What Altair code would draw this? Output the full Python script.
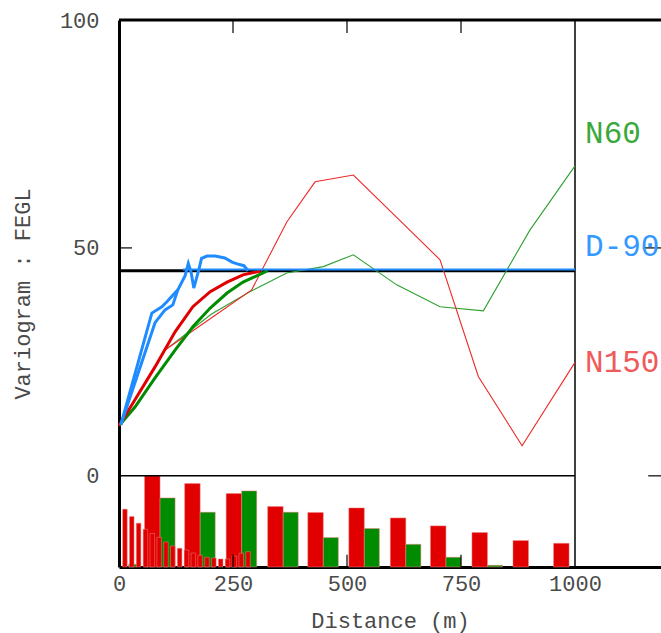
import altair as alt
import pandas as pd

FONT = "Liberation Mono"

# ---------------- data ----------------
# pair-count histogram (relative height, % of the tallest bar)
lag_pairs = [90, 178, 269, 360, 448, 538, 629, 717, 808, 898, 987]
pairs_n150 = [100, 91.5, 80.5, 66.3, 59.9, 64.8, 53.8, 45.1, 37.8, 29.0, 26.0]
pairs_n60 = [75.8, 60.1, 83.5, 60.1, 32.3, 42.2, 24.9, 10.7, 1.9, 0, 0]
lag_fine = [13, 28, 43, 58, 73, 88, 103, 118, 133, 148, 163, 178, 193, 208, 223, 238, 253, 268, 283]
pairs_fine = [63.4, 55.3, 48.0, 41.4, 36.8, 32.6, 27.5, 23.1, 20.5, 18.7, 15.4, 12.9, 10.7, 9.9, 8.8, 8.8, 12.1, 15.1, 16.8]
lag_fine_n60 = [30]
pairs_fine_n60 = [3.0]

# experimental variograms
n150_d = [101, 196, 291, 368, 430, 514, 609, 704, 788, 884, 1000]
n150_v = [27.6, 34.2, 40.8, 55.7, 64.5, 66.0, 56.7, 47.4, 21.8, 6.6, 24.9]
n60_d = [96, 203, 287, 368, 448, 514, 609, 704, 799, 901, 1000]
n60_v = [27.2, 35.5, 40.4, 44.5, 45.9, 48.5, 41.9, 37.1, 36.2, 53.9, 68.0]
d90a_d = [4, 72, 94, 105, 129, 145, 152, 158, 164, 175, 181, 193, 211, 232, 248, 259, 274, 283]
d90a_v = [11.2, 35.7, 37.1, 38.2, 40.8, 43.9, 46.6, 44.7, 41.2, 45.2, 47.7, 48.2, 48.2, 47.8, 46.9, 46.5, 46.1, 45.0]
d90b_d = [4, 79, 101, 118, 129]
d90b_v = [11.2, 33.6, 36.4, 37.5, 40.8]

# models
n150m_d = [0, 35, 79, 123, 162, 200, 237, 272, 309]
n150m_v = [11, 16.7, 23.9, 31.6, 37.1, 40.4, 42.5, 44.1, 44.9]
n60m_d = [0, 35, 79, 123, 162, 200, 237, 272, 316, 326]
n60m_v = [11, 15.1, 21.5, 27.6, 32.7, 36.8, 40.1, 42.5, 44.5, 45]
d90m_d = [140, 1000]
d90m_v = [45.25, 45.25]
sill_d = [0, 1000]
sill_v = [45, 45]

labels = ["N60", "D-90", "N150"]
label_v = [75.1, 50.1, 24.8]
label_colors = ["#3aa83a", "#3399ff", "#f05a5a"]

x_ticks = [0, 250, 500, 750, 1000]
y_ticks = [0, 50, 100]

# ---------------- scales / axes ----------------
XMAX = 1188.6
xs = alt.Scale(domain=[0, XMAX], nice=False, zero=False)
ys = alt.Scale(domain=[-20, 100], nice=False, zero=False)

x_axis = alt.Axis(values=x_ticks, title="Distance (m)", ticks=False, grid=False,
                  domainWidth=3, domainColor="black", labelFont=FONT, labelFontSize=22,
                  labelColor="#4a4a4a", labelPadding=6, labelFlush=False, labelOverlap=False,
                  titleFont=FONT, titleFontSize=22, titleFontWeight="normal", titleColor="#4a4a4a",
                  titleY=60, titleBaseline="alphabetic", format="d")
y_axis = alt.Axis(values=y_ticks, title="Variogram : FEGL", ticks=False, grid=False,
                  domainWidth=3, domainColor="black", labelFont=FONT, labelFontSize=22,
                  labelColor="#4a4a4a", labelPadding=20, labelOverlap=False,
                  titleFont=FONT, titleFontSize=22, titleFontWeight="normal", titleColor="#4a4a4a",
                  titleX=-97, titleY=273.5, titleBaseline="middle", titleAngle=270, format="d")

X = alt.X("d:Q", scale=xs, axis=x_axis)
Y = alt.Y("v:Q", scale=ys, axis=y_axis)


def bars_df(lags, pcts, lo, hi):
    return pd.DataFrame({
        "d": [l + lo for l in lags],
        "d2": [l + hi for l in lags],
        "v": [-20 + p * 0.2 for p in pcts],
        "v2": [-20] * len(lags),
    })


def bars(df, color):
    return alt.Chart(df).mark_rect(color=color, stroke="#f08080", strokeWidth=0.5).encode(
        x=X, x2="d2:Q", y=Y, y2="v2:Q")


def line(ds, vs, color, width):
    df = pd.DataFrame({"d": ds, "v": vs})
    return alt.Chart(df).mark_line(color=color, strokeWidth=width, clip=False).encode(x=X, y=Y)


def rule(df, width):
    return alt.Chart(df).mark_rule(color="black", strokeWidth=width).encode(
        x=X, x2="d2:Q", y=Y, y2="v2:Q")


RED = "#e00000"
GREEN = "#008c00"
BLUE = "#1e8cff"

layers = []
layers.append(bars(bars_df(lag_pairs, pairs_n150, -34, 0), RED))
layers.append(bars(bars_df(lag_pairs, pairs_n60, 0, 33), GREEN).transform_filter("datum.v > -20"))
layers.append(bars(bars_df(lag_fine_n60, pairs_fine_n60, -9, 9), GREEN))
layers.append(bars(bars_df(lag_fine, pairs_fine, -5, 5), RED))

# frame: zero line, d=1000 line, top line
layers.append(rule(pd.DataFrame({"d": [0], "d2": [1000], "v": [0], "v2": [0]}), 1.5))
layers.append(rule(pd.DataFrame({"d": [1000], "d2": [1000], "v": [-20], "v2": [100]}), 1.5))
layers.append(rule(pd.DataFrame({"d": [0], "d2": [XMAX], "v": [100], "v2": [100]}), 3))

# tick marks (inward)
tx = [t for t in x_ticks if 0 < t < 1000]
layers.append(rule(pd.DataFrame({"d": tx, "d2": tx, "v": [100] * len(tx), "v2": [100 - 2.85] * len(tx)}), 1.2))
layers.append(rule(pd.DataFrame({"d": tx, "d2": tx, "v": [-20] * len(tx), "v2": [-20 + 2.7] * len(tx)}), 1.2))
layers.append(rule(pd.DataFrame({"d": [0], "d2": [28.5], "v": [50], "v2": [50]}), 1.2))
layers.append(rule(pd.DataFrame({"d": [XMAX - 40, XMAX - 28], "d2": [XMAX, XMAX], "v": [50, 0], "v2": [50, 0]}), 1.2))

# variogram lines
layers.append(line(sill_d, sill_v, "black", 3))
layers.append(line(n60_d, n60_v, "#2ea02e", 1.1))
layers.append(line(n150_d, n150_v, "#f02828", 1.1))
layers.append(line(n60m_d, n60m_v, GREEN, 3))
layers.append(line(n150m_d, n150m_v, RED, 3))
layers.append(line(d90m_d, d90m_v, BLUE, 2))
layers.append(line(d90b_d, d90b_v, BLUE, 3))
layers.append(line(d90a_d, d90a_v, BLUE, 3))

lab_df = pd.DataFrame({"d": [1022] * 3, "v": label_v, "t": labels, "c": label_colors})
layers.append(alt.Chart(lab_df).mark_text(font=FONT, fontSize=31, align="left", baseline="middle").encode(
    x=X, y=Y, text="t:N", color=alt.Color("c:N", scale=None)))

chart = alt.layer(*layers).properties(
    width=542, height=547,
    padding={"left": 119, "top": 20, "right": 0, "bottom": 66},
    autosize=alt.AutoSizeParams(type="none"),
    background="white",
).configure_view(stroke=None)

chart.save("out.html", embed_options={"renderer": "svg", "actions": False})
